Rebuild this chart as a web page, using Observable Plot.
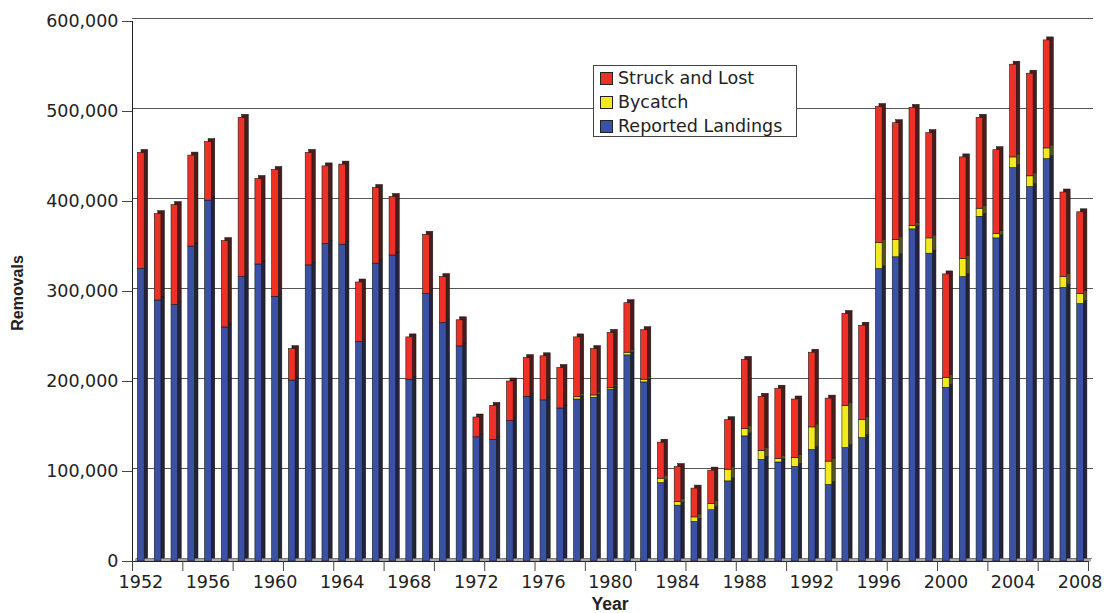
<!DOCTYPE html>
<html>
<head>
<meta charset="utf-8">
<script src="https://cdn.jsdelivr.net/npm/d3@7"></script>
<script src="https://cdn.jsdelivr.net/npm/@observablehq/plot@0.6"></script>
<style>
  html, body { margin: 0; padding: 0; background: #fff; }
  #wrap { position: relative; width: 1106px; height: 613px; overflow: hidden; font-family: "DejaVu Sans", sans-serif; }
  #wrap svg { position: absolute; left: 0; top: 0; }
  .ytitle { position: absolute; left: 18px; top: 293px; transform: translate(-50%, -50%) rotate(-90deg);
            font: bold 16px "Liberation Sans", Arial, sans-serif; color: #222; white-space: nowrap; }
  .xtitle { position: absolute; left: 610px; top: 604px; transform: translate(-50%, -50%);
            font: bold 17.5px "Liberation Sans", Arial, sans-serif; color: #222; white-space: nowrap; }
  .legend { position: absolute; left: 593px; top: 65px; width: 204px; height: 72px; background: #fff;
            border: 1px solid #444; box-sizing: border-box; }
  .legend .row { position: absolute; left: 6px; height: 22px; display: flex; align-items: center;
                 font: 17.5px "DejaVu Sans", sans-serif; color: #222; white-space: nowrap; }
  .legend .sw { width: 11px; height: 11px; border: 1px solid #222; margin-right: 5px; }
</style>
</head>
<body>
<div id="wrap"></div>
<script>
// ---- data (values in thousands of animals) ----
const years = [1952,1953,1954,1955,1956,1957,1958,1959,1960,1961,1962,1963,1964,1965,1966,1967,1968,1969,1970,
  1971,1972,1973,1974,1975,1976,1977,1978,1979,1980,1981,1982,1983,1984,1985,1986,1987,1988,1989,1990,
  1991,1992,1993,1994,1995,1996,1997,1998,1999,2000,2001,2002,2003,2004,2005,2006,2007,2008];
const reportedLandings = [325,290,285,350,401,260,316,330,294,201,329,353,352,244,331,340,202,297,265,
  239,138,135,156,183,179,170,180,182,191,229,199,87,62,44,57,89,139,113,110,
  105,124,85,126,137,325,338,369,342,193,316,383,359,437,416,447,304,286];
const bycatch = [0,0,0,0,0,0,0,0,0,0,0,0,0,0,0,0,0,0,0,
  0,0,0,0,0,0,0,2.5,2.5,2,3,3,5,4,5,7,13,8,10,4,
  10,25,26,47,20,29,19,4,17,11,20,9,5,12,12,12,12,11];
const struckAndLost = [129,96,111,101,65,96,177,95,141,35,125,86,89,66,84,65,47,66,51,
  29,22,38,44,43,49,45,66.5,51.5,61,55,55,40,39,32,37,55,77,60,78,
  65,83,70,102,105,151,130,131,117,115,113,101,93,103,114,120,94,91];
const seriesNames = ["Reported Landings", "Bycatch", "Struck and Lost"];
const seriesColors = ["#3b51a3", "#f2ea1f", "#ee3127"];
const sideColors = ["#23233a", "#56521c", "#4a1c1c"];
const yTickValues = [0, 100000, 200000, 300000, 400000, 500000, 600000];
const xLabelYears = [1952,1956,1960,1964,1968,1972,1976,1980,1984,1988,1992,1996,2000,2004,2008];

// ---- build stacked table ----
const seriesValues = [reportedLandings, bycatch, struckAndLost];
const table = [];
years.forEach((yr, i) => {
  let base = 0;
  seriesValues.forEach((vals, s) => {
    const v = vals[i] * 1000;
    if (v > 0) table.push({year: yr, series: s, y1: base, y2: base + v});
    base += v;
  });
});
const xStart = years[0] - 0.5, xEnd = years[years.length - 1] + 0.5;
const boundaries = years.filter((_, i) => i % 3 === 0).map(y => y - 0.5).concat([xEnd]);
const gridValues = yTickValues.filter(v => v > 0);

const barOpts = {
  x1: d => d.year - 0.5, x2: d => d.year + 0.5, y1: "y1", y2: "y2",
  insetLeft: 5.5, insetRight: 4.6
};

const chart = Plot.plot({
  width: 1106, height: 613,
  marginLeft: 132, marginRight: 18, marginTop: 21, marginBottom: 52,
  style: {background: "transparent", fontFamily: "'DejaVu Sans', sans-serif", fontSize: "17px", color: "#222"},
  x: {type: "linear", domain: [xStart, xEnd]},
  y: {domain: [0, 600000]},
  marks: [
    // back wall gridlines
    Plot.ruleY(gridValues, {dy: -3, insetRight: -5, stroke: "#555", strokeWidth: 1}),
    // floor
    Plot.ruleY([0], {dy: -1.5, dx: 3, stroke: "#a8a8a8", strokeWidth: 3}),
    Plot.ruleY([0], {dy: -3, dx: 4, stroke: "#666", strokeWidth: 0.8}),
    // 3D side/top of bars
    Plot.rect(table, {...barOpts, dx: 3.5, dy: -3, fill: d => sideColors[d.series], stroke: "#111", strokeWidth: 0.5}),
    // front faces
    Plot.rect(table, {...barOpts, fill: d => seriesColors[d.series], stroke: "#1a1a1a", strokeWidth: 0.6}),
    // axes lines
    Plot.ruleY([0], {stroke: "#222", strokeWidth: 1}),
    Plot.ruleX([xStart], {y1: 0, y2: 600000, stroke: "#222", strokeWidth: 1}),
    Plot.axisY({ticks: yTickValues, tickSize: 10, tickPadding: 4, tickFormat: d3.format(","),
                fontSize: 17.5, label: null, stroke: "#444"}),
    Plot.axisX({ticks: boundaries, tickSize: 10, tickFormat: () => "", label: null, stroke: "#444"}),
    Plot.axisX({ticks: xLabelYears, tickSize: 0, tickPadding: 14, tickFormat: d => String(d),
                fontSize: 17.5, label: null})
  ]
});

const wrap = document.getElementById("wrap");
wrap.appendChild(chart);

const yt = document.createElement("div"); yt.className = "ytitle"; yt.textContent = "Removals"; wrap.appendChild(yt);
const xt = document.createElement("div"); xt.className = "xtitle"; xt.textContent = "Year"; wrap.appendChild(xt);

const legend = document.createElement("div"); legend.className = "legend";
[2, 1, 0].forEach((s, k) => {
  const row = document.createElement("div"); row.className = "row";
  row.style.top = (1 + k * 24) + "px";
  const sw = document.createElement("div"); sw.className = "sw"; sw.style.background = seriesColors[s];
  const tx = document.createElement("span"); tx.textContent = seriesNames[s];
  row.appendChild(sw); row.appendChild(tx); legend.appendChild(row);
});
wrap.appendChild(legend);
</script>
</body>
</html>
